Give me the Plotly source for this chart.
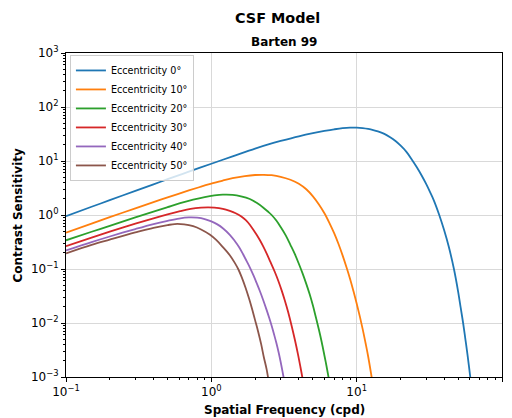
import plotly.graph_objects as go

# ---- data ----
labels = ["Eccentricity 0°", "Eccentricity 10°", "Eccentricity 20°",
          "Eccentricity 30°", "Eccentricity 40°", "Eccentricity 50°"]
colors = ["#1f77b4", "#ff7f0e", "#2ca02c", "#d62728", "#9467bd", "#8c564b"]

freq_0 = [0.1, 0.15, 0.2, 0.3, 0.4, 0.5, 0.7, 1, 1.4, 2, 2.5, 3, 4, 5, 6, 7, 8, 9, 10, 11, 12, 13, 14,
          15.5, 17, 18.5, 20, 22, 24, 26, 28, 30, 32, 34, 37, 40, 43, 46.7, 50, 52, 54, 56, 58, 60.5, 62]
sens_0 = [0.95, 1.42, 1.88, 2.8, 3.7, 4.6, 6.35, 8.9, 12.2, 17.0, 20.5, 23.5, 28.7, 32.8, 36.0, 38.6, 40.6,
          41.6, 41.5, 40.6, 39.2, 37.4, 35.4, 31.8, 27.6, 23.4, 19.4, 14.8, 10.6, 7.6, 5.4, 3.8, 2.65, 1.85,
          1.0, 0.52, 0.26, 0.1, 0.037, 0.019, 0.01, 0.005, 0.0025, 0.001, 0.0006]

freq_10 = [0.1, 0.15, 0.2, 0.3, 0.4, 0.5, 0.7, 0.85, 1, 1.2, 1.4, 1.7, 2, 2.3, 2.6, 3, 3.5, 4, 4.5, 5,
           5.5, 6, 6.5, 7, 7.5, 8, 8.5, 9, 9.5, 10, 10.5, 11, 11.5, 12, 12.6, 13.2]
sens_10 = [0.47, 0.69, 0.91, 1.33, 1.73, 2.12, 2.85, 3.35, 3.8, 4.35, 4.8, 5.25, 5.5, 5.55, 5.45, 5.1,
           4.5, 3.8, 3.0, 2.22, 1.57, 1.08, 0.71, 0.46, 0.29, 0.179, 0.109, 0.066, 0.039, 0.023, 0.0134,
           0.0077, 0.0043, 0.0024, 0.0011, 0.0005]

freq_20 = [0.1, 0.15, 0.2, 0.3, 0.4, 0.5, 0.61, 0.75, 0.9, 1.05, 1.2, 1.4, 1.6, 1.84, 2.05, 2.27, 2.45,
           2.6, 2.8, 3, 3.25, 3.5, 3.75, 4, 4.25, 4.5, 4.75, 5, 5.25, 5.5, 5.75, 6, 6.2, 6.4, 6.6]
sens_20 = [0.34, 0.49, 0.63, 0.9, 1.15, 1.4, 1.66, 1.93, 2.15, 2.3, 2.38, 2.36, 2.22, 1.98, 1.68, 1.38,
           1.16, 1.0, 0.79, 0.6, 0.42, 0.28, 0.19, 0.125, 0.082, 0.053, 0.034, 0.021, 0.0125, 0.0075,
           0.0044, 0.0025, 0.0016, 0.001, 0.0006]

freq_30 = [0.1, 0.15, 0.2, 0.3, 0.4, 0.5, 0.61, 0.72, 0.85, 0.95, 1.05, 1.2, 1.34, 1.47, 1.6, 1.72, 1.84,
           1.95, 2.05, 2.16, 2.27, 2.4, 2.55, 2.74, 2.9, 3.05, 3.2, 3.38, 3.56, 3.75, 3.95, 4.1, 4.25, 4.4]
sens_30 = [0.265, 0.38, 0.49, 0.69, 0.87, 1.03, 1.18, 1.3, 1.37, 1.385, 1.37, 1.3, 1.19, 1.08, 0.95, 0.81,
           0.66, 0.53, 0.43, 0.34, 0.265, 0.195, 0.135, 0.087, 0.0587, 0.0398, 0.0263, 0.0158, 0.0091,
           0.005, 0.0026, 0.00155, 0.00091, 0.00051]

freq_40 = [0.1, 0.15, 0.2, 0.3, 0.4, 0.5, 0.6, 0.7, 0.8, 0.9, 1.0, 1.1, 1.2, 1.34, 1.45, 1.55, 1.65, 1.75,
           1.85, 1.95, 2.05, 2.15, 2.27, 2.4, 2.5, 2.6, 2.7, 2.8, 2.9, 3.0, 3.1, 3.2, 3.3]
sens_40 = [0.22, 0.315, 0.4, 0.55, 0.68, 0.78, 0.86, 0.9, 0.89, 0.84, 0.76, 0.67, 0.57, 0.43, 0.33, 0.255,
           0.19, 0.14, 0.104, 0.076, 0.055, 0.04, 0.027, 0.0175, 0.0125, 0.0089, 0.0062, 0.0043, 0.0029,
           0.0019, 0.0012, 0.00075, 0.00045]

freq_50 = [0.1, 0.15, 0.2, 0.3, 0.4, 0.5, 0.56, 0.65, 0.75, 0.85, 0.98, 1.08, 1.2, 1.34, 1.45, 1.53, 1.62,
           1.72, 1.82, 1.92, 2.0, 2.1, 2.2, 2.3, 2.4, 2.47, 2.55]
sens_50 = [0.195, 0.28, 0.35, 0.475, 0.58, 0.65, 0.68, 0.67, 0.62, 0.54, 0.43, 0.345, 0.255, 0.18, 0.13,
           0.1, 0.07, 0.045, 0.028, 0.017, 0.0113, 0.0069, 0.0041, 0.0023, 0.0014, 0.0009, 0.00055]

x_tickvals = [0.1, 1, 10, 100]
x_ticktext = ["10<sup>−1</sup>", "10<sup>0</sup>", "10<sup>1</sup>", "10<sup>2</sup>"]
y_tickvals = [1e-3, 1e-2, 1e-1, 1, 10, 100, 1000]
y_ticktext = ["10<sup>−3</sup>", "10<sup>−2</sup>", "10<sup>−1</sup>", "10<sup>0</sup>",
              "10<sup>1</sup>", "10<sup>2</sup>", "10<sup>3</sup>"]

freqs = [freq_0, freq_10, freq_20, freq_30, freq_40, freq_50]
senss = [sens_0, sens_10, sens_20, sens_30, sens_40, sens_50]

FONT = "DejaVu Sans"

fig = go.Figure()
for lab, col, fx, sy in zip(labels, colors, freqs, senss):
    fig.add_trace(go.Scatter(x=fx, y=sy, mode="lines", name=lab,
                             line=dict(color=col, width=1.8, shape="spline", smoothing=1.0)))

def minor_vals(lo, hi):
    vals = []
    for e in range(lo, hi):
        for m in range(2, 10):
            vals.append(m * 10 ** e)
    return vals

axis_common = dict(
    type="log", showline=True, linecolor="black", linewidth=1, mirror=True,
    showgrid=True, gridcolor="#d9d9d9", gridwidth=1.2, zeroline=False,
    ticks="outside", ticklen=4, tickwidth=1, tickcolor="black",
    tickfont=dict(family=FONT, size=12, color="black"),
)

fig.update_xaxes(range=[-1, 2], tickmode="array", tickvals=x_tickvals, ticktext=x_ticktext,
                 minor=dict(tickmode="array", tickvals=minor_vals(-1, 2), ticks="outside",
                            ticklen=2.4, tickwidth=0.7, tickcolor="black", showgrid=False),
                 **axis_common)
fig.update_yaxes(range=[-3, 3], tickmode="array", tickvals=y_tickvals, ticktext=y_ticktext,
                 minor=dict(tickmode="array", tickvals=minor_vals(-3, 3), ticks="outside",
                            ticklen=2.4, tickwidth=0.7, tickcolor="black", showgrid=False),
                 **axis_common)

fig.update_layout(
    width=512, height=418,
    margin=dict(l=66, r=10, t=53, b=41),
    paper_bgcolor="white", plot_bgcolor="white",
    font=dict(family=FONT, color="black"),
    showlegend=True,
    legend=dict(x=0.009, y=0.994, xanchor="left", yanchor="top",
                bgcolor="rgba(255,255,255,0.8)", bordercolor="#cccccc", borderwidth=1,
                font=dict(family=FONT, size=9.6, color="black"),
                tracegroupgap=0),
    annotations=[
        dict(text="<b>CSF Model</b>", xref="paper", yref="paper", x=(277 - 66) / 436, y=1 + (377 - 17.5 - 324) / 324,
             xanchor="center", yanchor="middle", showarrow=False, font=dict(family=FONT, size=14.4, color="black")),
        dict(text="<b>Barten 99</b>", xref="paper", yref="paper", x=0.5, y=1 + (377 - 42 - 324) / 324,
             xanchor="center", yanchor="middle", showarrow=False, font=dict(family=FONT, size=12, color="black")),
        dict(text="<b>Spatial Frequency (cpd)</b>", xref="paper", yref="paper", x=0.5, y=-(410.5 - 377) / 324,
             xanchor="center", yanchor="middle", showarrow=False, font=dict(family=FONT, size=12, color="black")),
        dict(text="<b>Contrast Sensitivity</b>", xref="paper", yref="paper", x=-(66 - 17.5) / 436, y=0.5,
             xanchor="center", yanchor="middle", textangle=-90, showarrow=False,
             font=dict(family=FONT, size=12, color="black")),
    ],
)

fig.write_html("out.html")
